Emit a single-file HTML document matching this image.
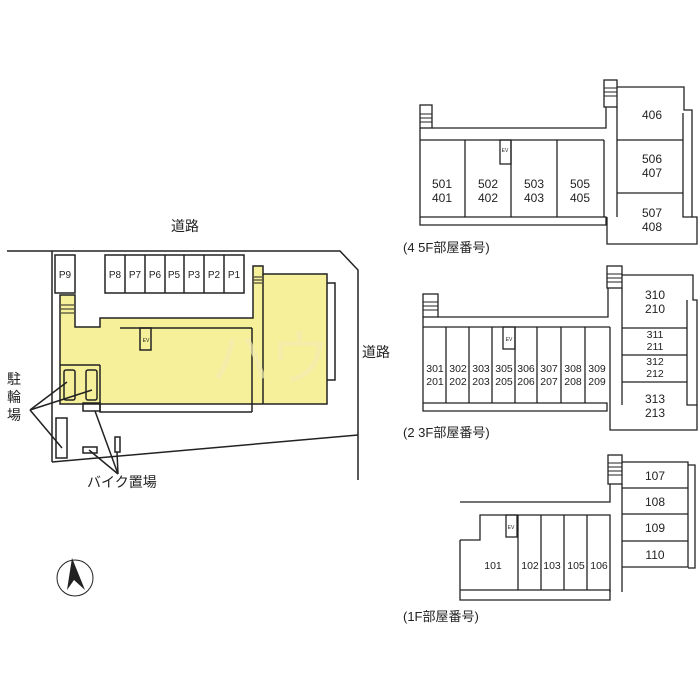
<!DOCTYPE html>
<html><head><meta charset="utf-8"><style>
html,body{margin:0;padding:0;background:#fff;}
svg{display:block;}
text{font-family:"Liberation Sans","Noto Sans CJK JP",sans-serif;fill:#222;}
</style></head><body>
<svg width="700" height="700" viewBox="0 0 700 700" xmlns="http://www.w3.org/2000/svg">
<g stroke="#222" stroke-width="1.5" fill="none">
<polyline points="7,251 340,251 358,270 358,480"/>
<line x1="52" y1="251" x2="52" y2="462"/>
<line x1="52" y1="462" x2="358" y2="435"/>
<rect x="55" y="255" width="20" height="38"/>
<rect x="105" y="255" width="139" height="38"/>
<line x1="125" y1="255" x2="125" y2="293"/><line x1="145" y1="255" x2="145" y2="293"/>
<line x1="165" y1="255" x2="165" y2="293"/><line x1="184" y1="255" x2="184" y2="293"/>
<line x1="204" y1="255" x2="204" y2="293"/><line x1="224" y1="255" x2="224" y2="293"/>
<path d="M60,295 H75 V327 H100 V318 H253 V266 H263 V274 H327 V404 H60 Z" fill="#f7f09a"/>
<line x1="120" y1="328" x2="252" y2="328"/>
<line x1="252" y1="328" x2="252" y2="412"/>
<polyline points="100,365 100,412 252,412"/>
<polyline points="60,365 100,365"/>
<line x1="263" y1="274" x2="263" y2="404"/>
<polyline points="327,283 335,283 335,380 327,380"/>
<rect x="140" y="328" width="11" height="22"/>
<rect x="64" y="370" width="11" height="30" rx="2"/>
<rect x="86" y="370" width="11" height="30" rx="2"/>
<rect x="83" y="403" width="17" height="8"/>
<rect x="56" y="418" width="11" height="40"/>
<rect x="83" y="447" width="14" height="6"/>
<rect x="115" y="437" width="5" height="15"/>
<g stroke-width="1"><line x1="61" y1="305" x2="74" y2="305"/><line x1="61" y1="309" x2="74" y2="309"/><line x1="61" y1="313" x2="74" y2="313"/>
<line x1="254" y1="277" x2="262" y2="277"/><line x1="254" y1="280" x2="262" y2="280"/><line x1="254" y1="283" x2="262" y2="283"/></g>
<line x1="30" y1="410" x2="67" y2="382"/><line x1="30" y1="410" x2="92" y2="390"/><line x1="30" y1="410" x2="62" y2="448"/>
<line x1="118" y1="474" x2="95" y2="411"/><line x1="118" y1="474" x2="89" y2="450"/><line x1="118" y1="474" x2="117" y2="452"/>
<circle cx="75" cy="578" r="18" stroke-width="1"/>
</g>
<path d="M67,590 L72,558 L85,590 L74,580 Z" fill="#222"/>
<g font-size="13">
<text x="185" y="231" text-anchor="middle" font-size="14">道路</text>
<text x="362" y="357" font-size="14">道路</text>
<text x="7" y="384" font-size="14">駐</text><text x="7" y="402" font-size="14">輪</text><text x="7" y="420" font-size="14">場</text>
<text x="87" y="487" font-size="14">バイク置場</text>
</g>
<g font-size="10" text-anchor="middle">
<text x="65" y="278">P9</text>
<text x="115" y="278">P8</text><text x="135" y="278">P7</text><text x="155" y="278">P6</text><text x="174" y="278">P5</text><text x="194" y="278">P3</text><text x="214" y="278">P2</text><text x="234" y="278">P1</text>
<text x="146" y="342" font-size="5">EV</text>
</g>
<text x="210" y="380" font-size="60" style="fill:#f3ecb0;opacity:0.7">ハウ</text>

<!-- 4-5F -->
<g stroke="#222" stroke-width="1.3" fill="none">
<rect x="420" y="105" width="12" height="23"/>
<polyline points="420,128 420,225 606,225 606,217 420,217"/>
<polyline points="432,128 606,128 606,107"/>
<line x1="420" y1="140" x2="604" y2="140"/>
<line x1="604" y1="140" x2="604" y2="217"/>
<line x1="465" y1="140" x2="465" y2="217"/><line x1="511" y1="140" x2="511" y2="217"/><line x1="557" y1="140" x2="557" y2="217"/>
<rect x="500" y="140" width="11" height="24"/>
<rect x="604" y="80" width="13" height="27"/>
<line x1="617" y1="107" x2="617" y2="217"/>
<polyline points="617,87 684,87 684,110 692,110 692,217 683,217 683,113"/>
<polyline points="607,217 607,244 697,244 697,217 692,217"/>
<line x1="617" y1="140" x2="683" y2="140"/>
<line x1="617" y1="193" x2="683" y2="193"/>
<g stroke-width="1"><line x1="420" y1="114" x2="432" y2="114"/><line x1="420" y1="118" x2="432" y2="118"/><line x1="420" y1="122" x2="432" y2="122"/>
<line x1="604" y1="88" x2="617" y2="88"/><line x1="604" y1="92" x2="617" y2="92"/><line x1="604" y1="96" x2="617" y2="96"/></g>
</g>
<g font-size="12" text-anchor="middle">
<text x="442" y="188">501</text><text x="442" y="202">401</text>
<text x="488" y="188">502</text><text x="488" y="202">402</text>
<text x="534" y="188">503</text><text x="534" y="202">403</text>
<text x="580" y="188">505</text><text x="580" y="202">405</text>
<text x="652" y="119">406</text>
<text x="652" y="163">506</text><text x="652" y="177">407</text>
<text x="652" y="217">507</text><text x="652" y="231">408</text>
<text x="505" y="152" font-size="5">EV</text>
</g>
<text x="403" y="252" font-size="13">(4 5F部屋番号)</text>

<!-- 2-3F -->
<g stroke="#222" stroke-width="1.3" fill="none">
<rect x="423" y="294" width="15" height="23"/>
<polyline points="423,317 423,411 607,411 607,403 423,403"/>
<polyline points="438,317 608,317 608,288"/>
<line x1="423" y1="327" x2="610" y2="327"/>
<line x1="610" y1="327" x2="610" y2="405"/>
<line x1="446" y1="327" x2="446" y2="403"/><line x1="469" y1="327" x2="469" y2="403"/><line x1="492" y1="327" x2="492" y2="403"/><line x1="515" y1="327" x2="515" y2="403"/><line x1="537" y1="327" x2="537" y2="403"/><line x1="561" y1="327" x2="561" y2="403"/><line x1="585" y1="327" x2="585" y2="403"/>
<rect x="503" y="327" width="12" height="22"/>
<rect x="607" y="266" width="15" height="22"/>
<line x1="622" y1="288" x2="622" y2="405"/>
<polyline points="622,275 693,275 693,300 697,300 697,405 687,405 687,300"/>
<polyline points="610,405 610,430 697,430 697,405"/>
<line x1="622" y1="328" x2="687" y2="328"/>
<line x1="622" y1="355" x2="687" y2="355"/>
<line x1="622" y1="382" x2="687" y2="382"/>
<g stroke-width="1"><line x1="423" y1="302" x2="438" y2="302"/><line x1="423" y1="306" x2="438" y2="306"/><line x1="423" y1="310" x2="438" y2="310"/>
<line x1="607" y1="274" x2="622" y2="274"/><line x1="607" y1="278" x2="622" y2="278"/><line x1="607" y1="282" x2="622" y2="282"/></g>
</g>
<g font-size="10.5" text-anchor="middle">
<text x="435" y="372">301</text><text x="435" y="385">201</text>
<text x="458" y="372">302</text><text x="458" y="385">202</text>
<text x="481" y="372">303</text><text x="481" y="385">203</text>
<text x="504" y="372">305</text><text x="504" y="385">205</text>
<text x="526" y="372">306</text><text x="526" y="385">206</text>
<text x="549" y="372">307</text><text x="549" y="385">207</text>
<text x="573" y="372">308</text><text x="573" y="385">208</text>
<text x="597" y="372">309</text><text x="597" y="385">209</text>
<text x="655" y="299" font-size="12">310</text><text x="655" y="313" font-size="12">210</text>
<text x="655" y="338">311</text><text x="655" y="350">211</text>
<text x="655" y="365">312</text><text x="655" y="377">212</text>
<text x="655" y="403" font-size="12">313</text><text x="655" y="417" font-size="12">213</text>
<text x="509" y="341" font-size="5">EV</text>
</g>
<text x="403" y="437" font-size="13">(2 3F部屋番号)</text>

<!-- 1F -->
<g stroke="#222" stroke-width="1.3" fill="none">
<polyline points="460,502 610,502 610,484"/>
<polyline points="460,540 460,600 610,600 610,590 460,590"/>
<polyline points="460,540 480,540 480,515 610,515 610,592"/>
<line x1="518" y1="515" x2="518" y2="590"/><line x1="541" y1="515" x2="541" y2="590"/><line x1="564" y1="515" x2="564" y2="590"/><line x1="587" y1="515" x2="587" y2="590"/>
<rect x="506" y="515" width="11" height="22"/>
<rect x="608" y="455" width="14" height="29"/>
<line x1="622" y1="484" x2="622" y2="592"/>
<polyline points="622,462 688,462 688,567 622,567"/>
<polyline points="688,465 695,465 695,568 688,568"/>
<line x1="622" y1="488" x2="688" y2="488"/>
<line x1="622" y1="514" x2="688" y2="514"/>
<line x1="622" y1="541" x2="688" y2="541"/>
<g stroke-width="1"><line x1="608" y1="463" x2="622" y2="463"/><line x1="608" y1="467" x2="622" y2="467"/><line x1="608" y1="471" x2="622" y2="471"/><line x1="608" y1="475" x2="622" y2="475"/></g>
</g>
<g font-size="10.5" text-anchor="middle">
<text x="493" y="569">101</text>
<text x="530" y="569">102</text><text x="552" y="569">103</text><text x="576" y="569">105</text><text x="599" y="569">106</text>
<text x="655" y="480" font-size="12">107</text>
<text x="655" y="506" font-size="12">108</text>
<text x="655" y="532" font-size="12">109</text>
<text x="655" y="559" font-size="12">110</text>
<text x="511" y="529" font-size="5">EV</text>
</g>
<text x="403" y="621" font-size="13">(1F部屋番号)</text>
</svg>
</body></html>
